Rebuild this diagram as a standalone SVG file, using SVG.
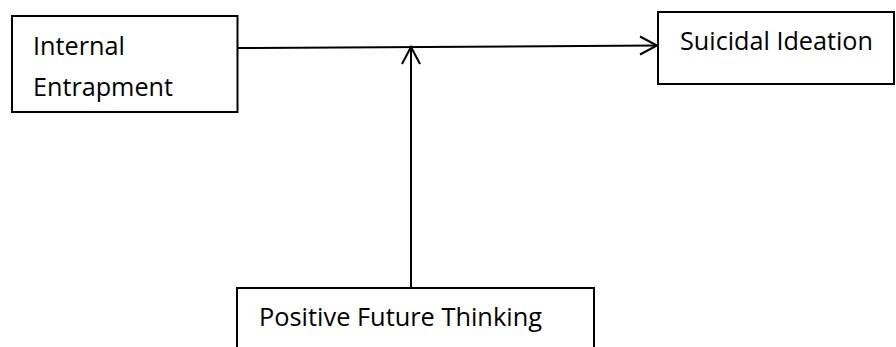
<svg xmlns="http://www.w3.org/2000/svg" width="896" height="347" viewBox="0 0 896 347">
<style>
.box{fill:#fff;stroke:#000;stroke-width:2}
.lbl{font-family:"Open Sans","Liberation Sans",Arial,sans-serif;font-size:25px;fill:#000}
.ln{fill:none;stroke:#000;stroke-width:2}
</style>
<rect width="896" height="347" fill="#fff"/>
<g id="connectors">
<path class="ln" d="M237.5,48 L657,45.5"/>
<path class="ln" d="M640,36.5 L657,45.5 L640,54.5"/>
<path class="ln" d="M411,287 L411,47"/>
<path class="ln" d="M402,64 L411,47 L420,64"/>
</g>
<g id="internal-entrapment">
<rect class="box" x="12" y="16" width="225.5" height="96"/>
<text class="lbl" x="33" y="55" textLength="92" lengthAdjust="spacingAndGlyphs">Internal</text>
<text class="lbl" x="33" y="96" textLength="140" lengthAdjust="spacingAndGlyphs">Entrapment</text>
</g>
<g id="suicidal-ideation">
<rect class="box" x="658" y="12" width="236" height="72"/>
<text class="lbl" x="680" y="49.5" textLength="193" lengthAdjust="spacingAndGlyphs">Suicidal Ideation</text>
</g>
<g id="positive-future-thinking">
<rect class="box" x="237" y="288" width="357" height="70"/>
<text class="lbl" x="259" y="326" textLength="283" lengthAdjust="spacingAndGlyphs">Positive Future Thinking</text>
</g>
</svg>
